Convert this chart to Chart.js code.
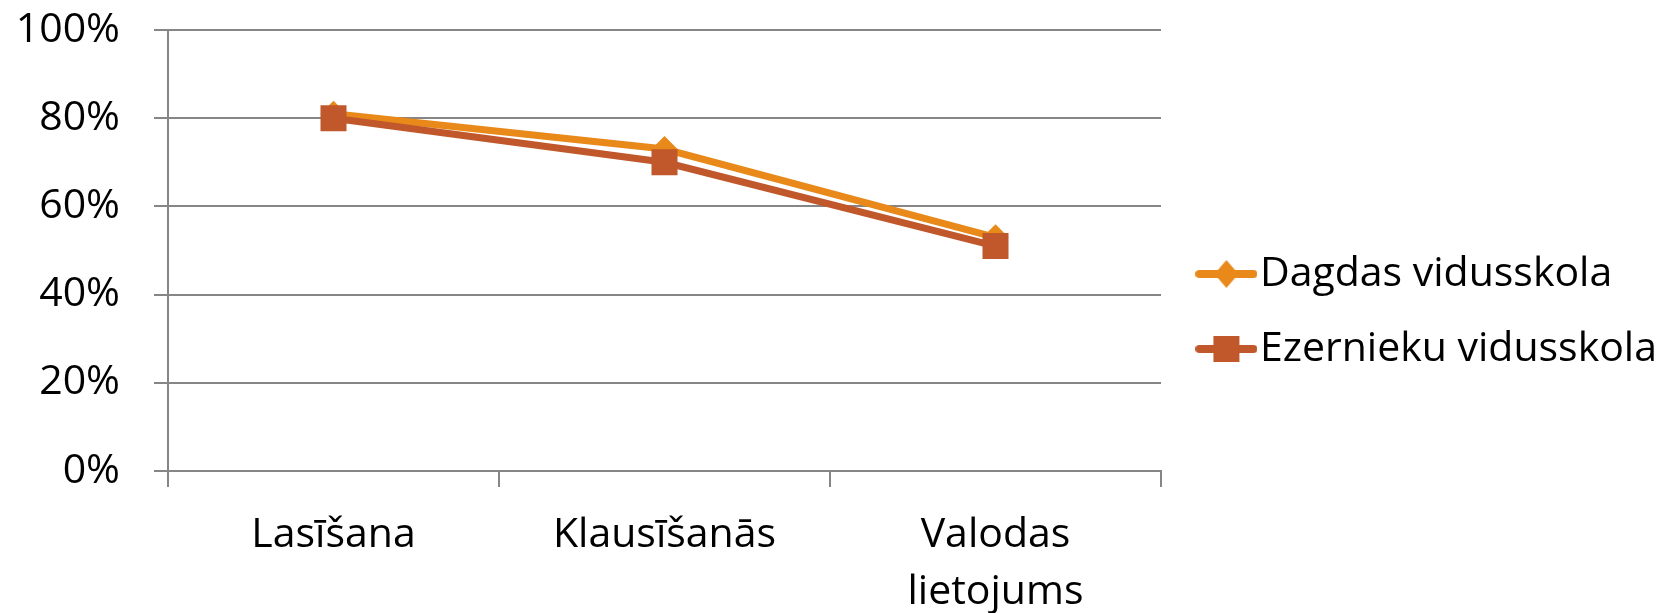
<!DOCTYPE html>
<html>
<head>
<meta charset="utf-8">
<script src="https://cdn.jsdelivr.net/npm/chart.js@4"></script>
<style>
  html, body { margin: 0; padding: 0; background: #fff; }
  #wrap { width: 1667px; height: 613px; }
</style>
</head>
<body>
<div id="wrap"><canvas id="chart"></canvas></div>
<script>
// data
const categories = ['Lasīšana', 'Klausīšanās', ['Valodas', 'lietojums']];
const seriesNames = ['Dagdas vidusskola', 'Ezernieku vidusskola'];
const dagdas = [81, 73, 53];
const ezernieku = [80, 70, 51];
const yTicks = [0, 20, 40, 60, 80, 100];

const colors = ['#E8891A', '#C0582B'];
const gridColor = '#868686';
const fontFamily = "'Open Sans', sans-serif";
const fontSize = 41;

// legend marker: line with the series marker on it
function legendMarker(color, shape) {
    const c = document.createElement('canvas');
    c.width = 62;
    c.height = 30;
    const g = c.getContext('2d');
    g.strokeStyle = color;
    g.fillStyle = color;
    g.lineWidth = 8;
    g.lineCap = 'round';
    g.beginPath();
    g.moveTo(4, 15);
    g.lineTo(58, 15);
    g.stroke();
    if (shape === 'diamond') {
        g.beginPath();
        g.moveTo(31, 1);
        g.lineTo(43, 15);
        g.lineTo(31, 29);
        g.lineTo(19, 15);
        g.closePath();
        g.fill();
    } else {
        g.fillRect(18, 2, 26, 26);
    }
    return c;
}
const markers = [legendMarker(colors[0], 'diamond'), legendMarker(colors[1], 'square')];

// legend geometry: place it so the chart area ends at x=1161
const legendPad = 34;
const boxW = 26;
const measure = document.createElement('canvas').getContext('2d');
measure.font = fontSize + 'px ' + fontFamily;
const maxTextW = Math.max(...seriesNames.map(t => measure.measureText(t).width));
const legendW = legendPad + boxW + fontSize / 2 + maxTextW + 10;
const padRight = Math.max(0, 1667 - 1182.5 - legendW);
const gapW = Math.max(0, 1667 - padRight - legendW - 1161);

const ctx = document.getElementById('chart').getContext('2d');
new Chart(ctx, {
    type: 'line',
    data: {
        labels: categories,
        datasets: [{
            label: seriesNames[0],
            data: dagdas,
            borderColor: colors[0],
            backgroundColor: colors[0],
            borderWidth: 7,
            pointStyle: 'rectRot',
            pointRadius: 13,
            pointBorderWidth: 0,
            pointBackgroundColor: colors[0],
            tension: 0,
            order: 1
        }, {
            label: seriesNames[1],
            data: ezernieku,
            borderColor: colors[1],
            backgroundColor: colors[1],
            borderWidth: 7,
            pointStyle: 'rect',
            pointRadius: 18.4,
            pointBorderWidth: 0,
            pointBackgroundColor: colors[1],
            tension: 0,
            order: 0
        }]
    },
    options: {
        responsive: true,
        maintainAspectRatio: false,
        animation: false,
        events: [],
        layout: {
            padding: { left: 0, top: 10, right: padRight, bottom: 0 }
        },
        plugins: {
            tooltip: { enabled: false },
            legend: {
                position: 'right',
                maxWidth: 800,
                labels: {
                    usePointStyle: true,
                    pointStyleWidth: boxW,
                    padding: legendPad,
                    color: '#000',
                    font: { family: fontFamily, size: fontSize },
                    generateLabels: () => seriesNames.map((name, i) => ({
                        text: name,
                        fillStyle: colors[i],
                        strokeStyle: colors[i],
                        lineWidth: 0,
                        pointStyle: markers[i],
                        hidden: false,
                        datasetIndex: i
                    }))
                }
            }
        },
        scales: {
            x: {
                offset: true,
                afterFit: s => { s.height = 142; },
                grid: {
                    offset: true,
                    drawOnChartArea: false,
                    drawTicks: true,
                    tickLength: 16,
                    color: gridColor,
                    lineWidth: 2
                },
                border: { display: true, color: gridColor, width: 2 },
                ticks: {
                    color: '#000',
                    padding: 20,
                    maxRotation: 0,
                    autoSkip: false,
                    font: { family: fontFamily, size: fontSize, lineHeight: 1.39 }
                }
            },
            y: {
                min: 0,
                max: 100,
                afterFit: s => {
                    s.width = 168;
                    s.paddingTop = 30;
                    s.paddingBottom = 0;
                },
                afterBuildTicks: s => { s.ticks = yTicks.map(v => ({ value: v })); },
                grid: {
                    color: gridColor,
                    lineWidth: 2,
                    tickLength: 14
                },
                border: { display: true, color: gridColor, width: 2 },
                ticks: {
                    color: '#000',
                    padding: 34,
                    font: { family: fontFamily, size: fontSize },
                    callback: v => v + '%'
                }
            },
            gap: {
                type: 'linear',
                position: 'right',
                afterFit: s => { s.width = gapW; },
                grid: { display: false, drawTicks: false },
                border: { display: false },
                ticks: { display: false }
            }
        }
    }
});
</script>
</body>
</html>
